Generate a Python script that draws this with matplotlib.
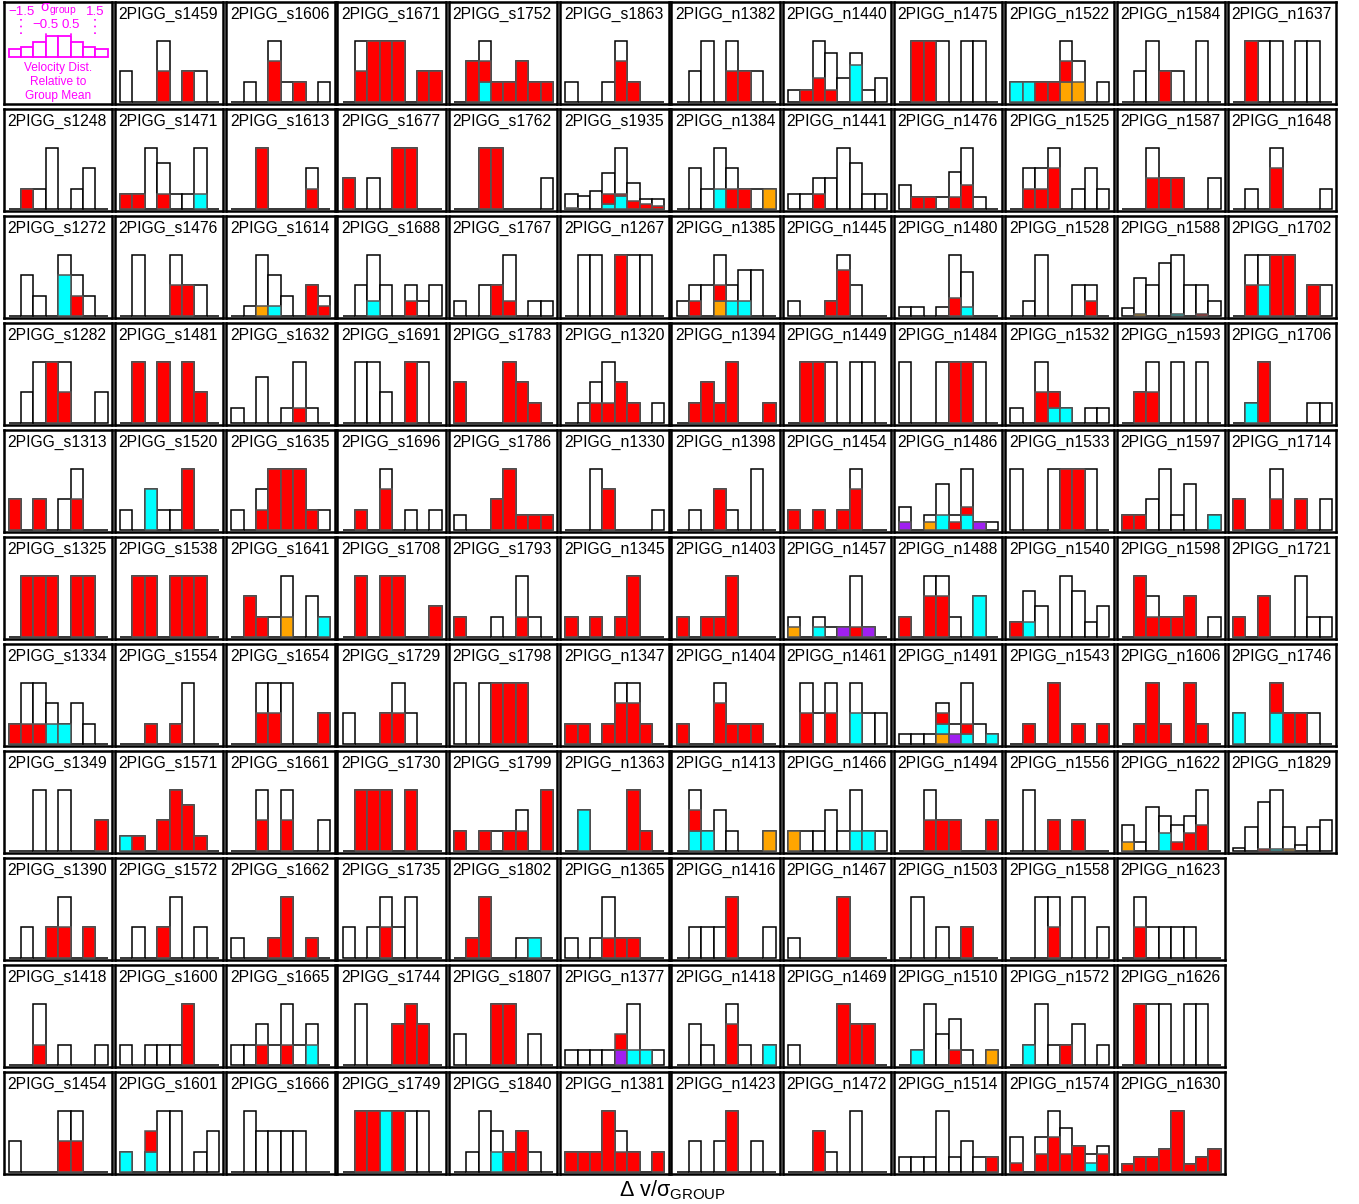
import numpy as np
import matplotlib.pyplot as plt

plt.rcParams['font.family'] = ['Liberation Sans', 'DejaVu Sans']
plt.rcParams['mathtext.fontset'] = 'custom'
plt.rcParams['mathtext.rm'] = 'Liberation Sans'
plt.rcParams['mathtext.default'] = 'regular'

# group names, column-major order (first slot is the legend panel)
names = [
    "s1248", "s1272", "s1282", "s1313", "s1325", "s1334", "s1349", "s1390", "s1418", "s1454",
    "s1459", "s1471", "s1476", "s1481", "s1520", "s1538", "s1554", "s1571", "s1572", "s1600", "s1601",
    "s1606", "s1613", "s1614", "s1632", "s1635", "s1641", "s1654", "s1661", "s1662", "s1665", "s1666",
    "s1671", "s1677", "s1688", "s1691", "s1696", "s1708", "s1729", "s1730", "s1735", "s1744", "s1749",
    "s1752", "s1762", "s1767", "s1783", "s1786", "s1793", "s1798", "s1799", "s1802", "s1807", "s1840",
    "s1863", "s1935", "n1267", "n1320", "n1330", "n1345", "n1347", "n1363", "n1365", "n1377", "n1381",
    "n1382", "n1384", "n1385", "n1394", "n1398", "n1403", "n1404", "n1413", "n1416", "n1418", "n1423",
    "n1440", "n1441", "n1445", "n1449", "n1454", "n1457", "n1461", "n1466", "n1467", "n1469", "n1472",
    "n1475", "n1476", "n1480", "n1484", "n1486", "n1488", "n1491", "n1494", "n1503", "n1510", "n1514",
    "n1522", "n1525", "n1528", "n1532", "n1533", "n1540", "n1543", "n1556", "n1558", "n1572", "n1574",
    "n1584", "n1587", "n1588", "n1593", "n1597", "n1598", "n1606", "n1622", "n1623", "n1626", "n1630",
    "n1637", "n1648", "n1702", "n1706", "n1714", "n1721", "n1746", "n1829",
]

# all members per velocity bin (8 bins of 0.5 sigma from -2 to 2)
totals = [
    # column 1
    [0,1,1,3,0,1,2,0], [0,2,1,0,3,2,1,0], [0,1,2,2,2,0,0,1], [1,0,1,0,1,2,0,0], [0,1,1,1,0,1,1,0],
    [1,3,3,2,1,2,1,0], [0,0,2,0,2,0,0,1], [0,1,0,1,2,0,1,0], [0,0,3,0,1,0,0,1], [1,0,0,0,2,2,0,0],
    # column 2
    [1,0,0,2,0,1,1,0], [1,1,4,3,1,1,4,0], [0,2,0,0,2,1,1,0], [0,2,0,2,0,2,1,0], [1,0,2,1,1,3,0,0],
    [0,1,1,0,1,1,1,0], [0,0,1,0,1,3,0,0], [1,1,0,2,4,3,1,0], [0,1,0,1,2,0,1,0], [1,0,1,1,1,3,0,0],
    [1,0,1,3,3,0,1,2],
    # column 3
    [0,1,0,3,1,1,0,1], [0,0,3,0,0,0,2,0], [0,1,6,4,2,0,3,2], [1,0,3,0,1,4,1,0], [1,0,2,3,3,3,1,1],
    [0,2,1,1,3,0,2,1], [0,0,2,2,2,0,0,1], [0,0,2,0,2,0,0,1], [1,0,0,1,3,0,1,0], [1,1,2,1,3,1,2,0],
    [0,3,2,2,2,2,0,0],
    # column 4
    [0,2,2,2,2,0,1,1], [1,0,1,0,2,2,0,0], [0,2,4,2,0,2,1,2], [0,2,2,1,0,2,2,0], [0,1,0,3,0,1,0,1],
    [0,2,0,2,2,0,0,1], [1,0,0,1,2,1,0,0], [0,1,1,1,0,1,0,0], [1,0,1,2,1,2,0,0], [0,3,0,0,2,3,2,0],
    [0,1,1,1,1,1,1,0],
    # column 5
    [0,2,3,1,1,2,1,1], [0,0,2,2,0,0,0,1], [1,0,2,2,4,0,1,1], [2,0,0,0,3,2,1,0], [1,0,0,2,4,1,1,1],
    [1,0,0,1,0,3,1,0], [1,0,1,1,1,1,0,0], [1,0,1,1,1,2,0,3], [0,1,3,0,0,1,1,0], [1,0,0,2,2,0,1,0],
    [0,1,3,2,1,2,1,0],
    # column 6
    [1,0,0,1,3,1,0,0], [6,5,7,14,24,10,4,4], [0,1,1,0,1,1,1,0], [0,1,2,3,2,1,0,1], [0,0,3,2,0,0,0,1],
    [1,0,1,0,1,3,0,0], [1,1,0,1,3,3,1,0], [0,2,0,0,0,3,1,0], [1,0,1,3,1,1,0,0], [1,1,1,1,1,4,1,1],
    [1,1,1,3,2,1,0,1],
    # column 7
    [0,1,2,0,2,1,1,0], [0,2,1,3,2,1,1,1], [1,2,2,4,2,3,3,0], [0,1,2,1,3,0,0,1], [0,1,0,2,1,0,3,0],
    [1,0,1,1,3,0,0,0], [1,0,0,3,1,1,1,0], [0,3,1,2,1,0,0,1], [0,1,1,1,2,0,0,1], [0,2,1,0,3,1,0,1],
    [0,1,0,1,2,0,1,0],
    # column 8
    [1,1,5,4,2,4,1,2], [1,1,2,2,4,3,1,1], [1,0,0,1,4,2,0,0], [0,1,1,1,0,1,1,0], [1,0,1,0,1,3,0,0],
    [2,0,2,1,1,6,1,0], [0,2,1,2,0,2,1,1], [1,1,1,2,1,3,1,1], [1,0,0,0,3,0,0,0], [1,0,0,0,3,2,2,0],
    [0,0,2,1,0,3,0,0],
    # column 9
    [0,1,1,1,0,1,1,0], [2,1,1,1,3,5,1,0], [1,1,0,1,7,5,0,0], [1,0,0,1,1,1,1,0], [3,0,2,6,2,8,1,1],
    [1,0,3,3,1,0,2,0], [1,1,1,4,2,6,2,1], [0,0,2,1,1,0,0,1], [0,2,0,1,0,1,0,0], [0,1,4,2,3,1,0,1],
    [1,1,1,4,1,2,1,1],
    # column 10
    [1,1,1,1,3,2,0,1], [0,2,2,3,0,1,2,1], [0,1,4,0,0,2,2,0], [1,0,4,2,1,0,1,1], [1,0,0,1,1,1,1,0],
    [1,3,2,0,4,3,1,2], [0,1,0,3,0,1,0,1], [0,2,0,1,0,1,0,0], [0,0,2,2,0,2,0,1], [0,1,3,1,1,2,0,1],
    [4,0,4,7,5,3,2,3],
    # column 11
    [0,1,2,1,1,0,2,0], [0,0,2,1,1,0,0,1], [1,5,4,7,8,4,4,2], [0,1,2,0,2,0,2,0], [1,1,2,4,1,3,0,1],
    [0,3,2,1,1,2,0,1], [0,1,3,1,0,3,1,0], [3,1,5,4,3,4,7,0], [0,2,1,1,1,1,0,0], [0,1,1,1,0,1,1,0],
    [1,2,2,3,8,1,2,3],
    # column 12
    [0,1,1,1,0,1,1,0], [0,1,0,3,0,0,0,1], [0,2,2,2,2,0,1,1], [0,1,3,0,0,0,1,1], [1,0,0,2,0,1,0,1],
    [1,0,2,0,0,3,1,1], [1,0,0,2,1,1,1,0], [0.5,4,8,10,4,1,4,5],
]

# members in the red class per bin
reds = [
    # column 1
    [0,1,0,0,0,0,0,0], [0,0,0,0,0,1,0,0], [0,0,0,2,1,0,0,0], [1,0,1,0,0,1,0,0], [0,1,1,1,0,1,1,0],
    [1,1,1,0,0,0,0,0], [0,0,0,0,0,0,0,1], [0,0,0,1,1,0,1,0], [0,0,1,0,0,0,0,0], [0,0,0,0,1,1,0,0],
    # column 2
    [0,0,0,1,0,1,0,0], [1,1,0,1,0,0,0,0], [0,0,0,0,1,1,0,0], [0,2,0,2,0,2,1,0], [0,0,0,0,0,3,0,0],
    [0,1,1,0,1,1,1,0], [0,0,1,0,1,0,0,0], [0,1,0,2,4,3,1,0], [0,0,0,1,0,0,0,0], [0,0,0,0,0,3,0,0],
    [0,0,1,0,0,0,0,0],
    # column 3
    [0,0,0,2,0,1,0,0], [0,0,3,0,0,0,1,0], [0,0,0,0,0,0,3,1], [0,0,0,0,0,1,0,0], [0,0,1,3,3,3,1,0],
    [0,2,1,0,0,0,0,0], [0,0,1,1,0,0,0,1], [0,0,1,0,1,0,0,0], [0,0,0,1,3,0,1,0], [0,0,1,0,1,0,0,0],
    [0,0,0,0,0,0,0,0],
    # column 4
    [0,1,2,2,2,0,1,1], [1,0,0,0,2,2,0,0], [0,0,0,0,0,1,0,0], [0,0,0,0,0,2,0,0], [0,1,0,2,0,0,0,0],
    [0,2,0,2,2,0,0,1], [0,0,0,1,1,0,0,0], [0,1,1,1,0,1,0,0], [0,0,0,1,0,0,0,0], [0,0,0,0,2,3,2,0],
    [0,1,1,0,1,0,0,0],
    # column 5
    [0,2,1,1,1,2,1,1], [0,0,2,2,0,0,0,0], [0,0,0,2,1,0,0,0], [2,0,0,0,3,2,1,0], [0,0,0,2,4,1,1,1],
    [1,0,0,0,0,1,0,0], [0,0,0,1,1,1,0,0], [1,0,1,0,1,1,0,3], [0,1,3,0,0,0,0,0], [0,0,0,2,2,0,0,0],
    [0,0,0,0,1,2,0,0],
    # column 6
    [0,0,0,0,2,1,0,0], [0,0,0,4,1,3,2,1], [0,0,0,0,1,0,0,0], [0,0,1,1,2,1,0,0], [0,0,0,2,0,0,0,0],
    [1,0,1,0,1,3,0,0], [1,1,0,1,2,2,1,0], [0,0,0,0,0,3,1,0], [0,0,0,1,1,1,0,0], [0,0,0,0,1,0,0,0],
    [1,1,1,3,1,1,0,1],
    # column 7
    [0,0,0,0,1,1,0,0], [0,0,0,0,1,1,0,0], [0,1,0,1,0,0,0,0], [0,1,2,1,3,0,0,1], [0,0,0,2,0,0,0,0],
    [1,0,1,1,3,0,0,0], [1,0,0,2,1,1,1,0], [0,1,0,0,0,0,0,0], [0,0,0,0,2,0,0,0], [0,0,0,0,2,0,0,0],
    [0,0,0,0,2,0,0,0],
    # column 8
    [0,1,2,1,0,0,0,0], [0,0,1,0,0,0,0,0], [0,0,0,1,3,0,0,0], [0,1,1,0,0,0,0,0], [1,0,1,0,1,2,0,0],
    [0,0,0,0,0,1,0,0], [0,1,0,1,0,0,0,0], [0,0,0,0,0,0,0,0], [0,0,0,0,3,0,0,0], [0,0,0,0,3,2,2,0],
    [0,0,2,0,0,0,0,0],
    # column 9
    [0,1,1,0,0,0,0,0], [0,1,1,0,1,2,0,0], [0,0,0,0,2,0,0,0], [0,0,0,0,1,1,0,0], [0,0,0,0,1,1,0,0],
    [1,0,2,2,0,0,0,0], [0,0,0,1,0,1,0,0], [0,0,1,1,1,0,0,1], [0,0,0,0,0,1,0,0], [0,0,0,0,1,0,0,0],
    [0,0,0,0,0,0,0,1],
    # column 10
    [0,0,1,1,1,0,0,0], [0,1,1,2,0,0,0,0], [0,0,0,0,0,0,1,0], [0,0,2,1,0,0,0,0], [0,0,0,0,1,1,0,0],
    [1,0,0,0,0,0,0,0], [0,1,0,3,0,1,0,1], [0,0,0,1,0,1,0,0], [0,0,0,1,0,0,0,0], [0,0,0,0,1,0,0,0],
    [1,0,2,4,2,3,0,2],
    # column 11
    [0,0,0,1,0,0,0,0], [0,0,1,1,1,0,0,0], [0,0,0,0,0,0,0.3,0], [0,1,1,0,0,0,0,0], [1,1,0,0,0,0,0,0],
    [0,3,1,1,1,2,0,0], [0,1,3,1,0,3,1,0], [0,0,0,0,1,2,3,0], [0,1,0,0,0,0,0,0], [0,1,0,0,0,0,0,0],
    [1,2,2,3,8,1,2,3],
    # column 12
    [0,1,0,0,0,0,0,0], [0,0,0,2,0,0,0,0], [0,1,0,2,2,0,1,0], [0,0,3,0,0,0,0,0], [1,0,0,1,0,1,0,0],
    [1,0,2,0,0,0,0,0], [0,0,0,1,1,1,0,0], [0,0,0.3,0,0,0,0,0],
]

# sparse classes: only groups that have them
cyans = {
    "s1272": [0,0,0,0,2,0,0,0], "s1334": [0,0,0,1,1,0,0,0], "s1471": [0,0,0,0,0,0,1,0],
    "s1520": [0,0,2,0,0,0,0,0], "s1571": [1,0,0,0,0,0,0,0], "s1601": [1,0,1,0,0,0,0,0],
    "s1614": [0,0,0,1,0,0,0,0], "s1641": [0,0,0,0,0,0,0,1], "s1665": [0,0,0,0,0,0,1,0],
    "s1688": [0,0,1,0,0,0,0,0], "s1749": [0,0,0,1,0,0,0,0], "s1752": [0,0,1,0,0,0,0,0],
    "s1802": [0,0,0,0,0,0,1,0], "s1840": [0,0,0,1,0,0,0,0], "s1935": [0,0,0,2,5,0,0,0],
    "n1363": [0,2,0,0,0,0,0,0], "n1377": [0,0,0,0,0,1,1,0], "n1384": [0,0,0,1,0,0,0,0],
    "n1385": [0,0,0,0,1,1,0,0], "n1413": [0,1,1,0,0,0,0,0], "n1418": [0,0,0,0,0,0,0,1],
    "n1440": [0,0,0,0,0,3,0,0], "n1457": [0,0,1,0,0,0,0,0], "n1461": [0,0,0,0,0,1,0,0],
    "n1466": [0,0,0,0,0,1,1,0], "n1480": [0,0,0,0,0,1,0,0], "n1486": [0,0,0,2,0,2,0,0],
    "n1488": [0,0,0,0,0,0,2,0], "n1491": [0,0,0,1,0,1,0,1], "n1510": [0,1,0,0,0,0,0,0],
    "n1522": [1,1,0,0,0,0,0,0], "n1532": [0,0,0,1,1,0,0,0], "n1540": [0,1,0,0,0,0,0,0],
    "n1572": [0,1,0,0,0,0,0,0], "n1574": [0,0,0,0,0,0,1,0], "n1588": [0,0,0,0,0.3,0,0,0],
    "n1597": [0,0,0,0,0,0,0,1], "n1622": [0,0,0,2,0,0,0,0], "n1702": [0,0,1,0,0,0,0,0],
    "n1706": [0,1,0,0,0,0,0,0], "n1746": [1,0,0,1,0,0,0,0], "n1829": [0,0,0,0.3,0,0,0,0],
}
oranges = {
    "n1384": [0,0,0,0,0,0,0,1], "n1385": [0,0,0,1,0,0,0,0], "n1413": [0,0,0,0,0,0,0,1],
    "n1457": [1,0,0,0,0,0,0,0], "n1466": [1,0,0,0,0,0,0,0], "n1486": [0,0,1,0,0,0,0,0],
    "n1491": [0,0,0,1,0,0,0,0], "n1510": [0,0,0,0,0,0,0,1], "n1522": [0,0,0,0,1,1,0,0],
    "n1588": [0,0.3,0,0,0,0,0,0], "n1622": [1,0,0,0,0,0,0,0], "n1829": [0,0,0,0,0.3,0,0,0],
    "s1614": [0,0,1,0,0,0,0,0], "s1641": [0,0,0,0,1,0,0,0], "s1935": [0.3,0,0,0,0,0,0,0],
}
purples = {
    "n1457": [0,0,0,0,1,0,1,0], "n1486": [1,0,0,0,0,0,1,0], "n1491": [0,0,0,0,1,0,0,0],
    "n1377": [0,0,0,0,1,0,0,0],
}

legend_shape = [0.37, 0.49, 0.72, 1.0, 1.0, 0.72, 0.49, 0.37]

edges = np.arange(-2, 2.01, 0.5)
centers = edges[:-1] + 0.25

W, H = 1359, 1204
fig = plt.figure(figsize=(W / 100, H / 100), dpi=100)

PW, PH = 108.5, 102.0


def make_axes(slot):
    col, row = slot // 11, slot % 11
    left = 3.5 + 111.3 * col
    top = 2.0 + 107.0 * row
    ax = fig.add_axes([left / W, 1 - (top + PH) / H, PW / W, PH / H])
    ax.set_xticks([])
    ax.set_yticks([])
    for s in ax.spines.values():
        s.set_linewidth(1.8)
        s.set_color('black')
    ax.set_xlim(-2.21, 2.17)
    return ax


# legend panel
mag = '#FF00FF'
ax = make_axes(0)
ax.set_ylim(0, 1)
ax.bar(centers, np.array(legend_shape) * 0.212, width=0.5, bottom=0.458,
       color='white', edgecolor=mag, linewidth=1.3)
for xv in (-1.5, 1.5):
    ax.plot([xv, xv], [0.69, 0.83], color=mag, linestyle=(0, (1, 3)), linewidth=1.2)
for xv in (-0.5, 0.5):
    ax.plot([xv, xv], [0.68, 0.71], color=mag, linestyle=(0, (1, 3)), linewidth=1.2)
ax.text(-1.5, 0.905, "\u22121.5", color=mag, ha='center', va='center', fontsize=9.5)
ax.text(1.5, 0.905, "1.5", color=mag, ha='center', va='center', fontsize=9.5)
ax.text(0.02, 0.92, r"$\sigma_{group}$", color=mag, ha='center', va='center', fontsize=10.5)
ax.text(-0.5, 0.775, "\u22120.5", color=mag, ha='center', va='center', fontsize=9.5)
ax.text(0.5, 0.775, "0.5", color=mag, ha='center', va='center', fontsize=9.5)
for yv, line in zip((0.355, 0.218, 0.08), ("Velocity Dist.", "Relative to", "Group Mean")):
    ax.text(0.0, yv, line, color=mag, ha='center', va='center', fontsize=8.6)

# group panels
for i, name in enumerate(names):
    ax = make_axes(i + 1)
    tot = np.array(totals[i], dtype=float)
    m = tot.max()
    ax.set_ylim(-0.035, 1.64)
    ax.bar(centers, tot / m, width=0.5, color='white', edgecolor='black',
           linewidth=1.1, zorder=2)
    base = np.zeros(8)
    layers = [(oranges.get(name), '#FFA500'), (purples.get(name), '#A020F0'),
              (cyans.get(name), '#00FFFF'), (reds[i], '#FF0000')]
    for vals, colr in layers:
        if vals is None:
            continue
        v = np.array(vals, dtype=float) / m
        keep = v > 0
        ax.bar(centers[keep], v[keep], width=0.5, bottom=base[keep], color=colr,
               edgecolor='#555555', linewidth=1.1, zorder=3)
        base = base + v
    ax.text(0.035, 0.955, "2PIGG_" + name, transform=ax.transAxes,
            ha='left', va='top', fontsize=11.3)

fig.text(672 / W, 1 - 1190 / H, r"$\Delta$ v/$\sigma_{GROUP}$",
         ha='center', va='center', fontsize=15.5)

fig.savefig("out.png", dpi=100)
